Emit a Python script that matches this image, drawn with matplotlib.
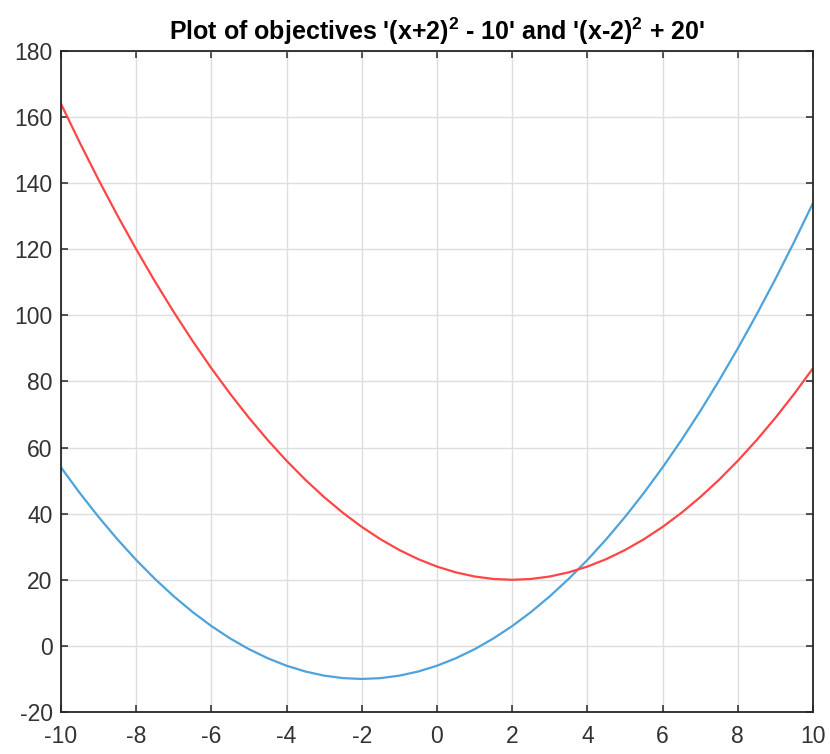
import matplotlib.pyplot as plt

plt.rcParams['font.family'] = ['Liberation Sans', 'DejaVu Sans']
plt.rcParams['mathtext.default'] = 'regular'
plt.rcParams['axes.unicode_minus'] = False

# sample points
x = [-10, -9.5, -9, -8.5, -8, -7.5, -7, -6.5, -6, -5.5, -5, -4.5, -4, -3.5, -3, -2.5, -2,
     -1.5, -1, -0.5, 0, 0.5, 1, 1.5, 2, 2.5, 3, 3.5, 4, 4.5, 5, 5.5, 6, 6.5, 7, 7.5, 8,
     8.5, 9, 9.5, 10]
blue_y = [54, 46.25, 39, 32.25, 26, 20.25, 15, 10.25, 6, 2.25, -1, -3.75, -6, -7.75, -9,
          -9.75, -10, -9.75, -9, -7.75, -6, -3.75, -1, 2.25, 6, 10.25, 15, 20.25, 26, 32.25,
          39, 46.25, 54, 62.25, 71, 80.25, 90, 100.25, 111, 122.25, 134]
red_y = [164, 152.25, 141, 130.25, 120, 110.25, 101, 92.25, 84, 76.25, 69, 62.25, 56, 50.25,
         45, 40.25, 36, 32.25, 29, 26.25, 24, 22.25, 21, 20.25, 20, 20.25, 21, 22.25, 24,
         26.25, 29, 32.25, 36, 40.25, 45, 50.25, 56, 62.25, 69, 76.25, 84]

fig = plt.figure(figsize=(8.3, 7.54), dpi=100)
ax = fig.add_axes([0.0735, 0.0557, 0.906, 0.8767])

ax.plot(x, blue_y, color='#4DA3DC', lw=1.6)
ax.plot(x, red_y, color='#FF4646', lw=1.6)

ax.set_xlim(-10, 10)
ax.set_ylim(-20, 180)
ax.set_xticks(range(-10, 11, 2))
ax.set_yticks(range(-20, 181, 20))
ax.grid(True, color='#DEDEDE', lw=1)
ax.set_axisbelow(True)

for s in ax.spines.values():
    s.set_color('#262626')
    s.set_linewidth(1.3)
ax.tick_params(direction='in', length=5, width=1.1, color='#262626',
               labelcolor='#333333', labelsize=16.5, top=True, right=True)
ax.tick_params(axis='x', pad=9)
ax.tick_params(axis='y', pad=6)

ax.set_title("Plot of objectives '(x+2)$^2$ - 10' and '(x-2)$^2$ + 20'",
             fontsize=18, fontweight='bold', color='black', pad=8)

fig.savefig('out.png')
